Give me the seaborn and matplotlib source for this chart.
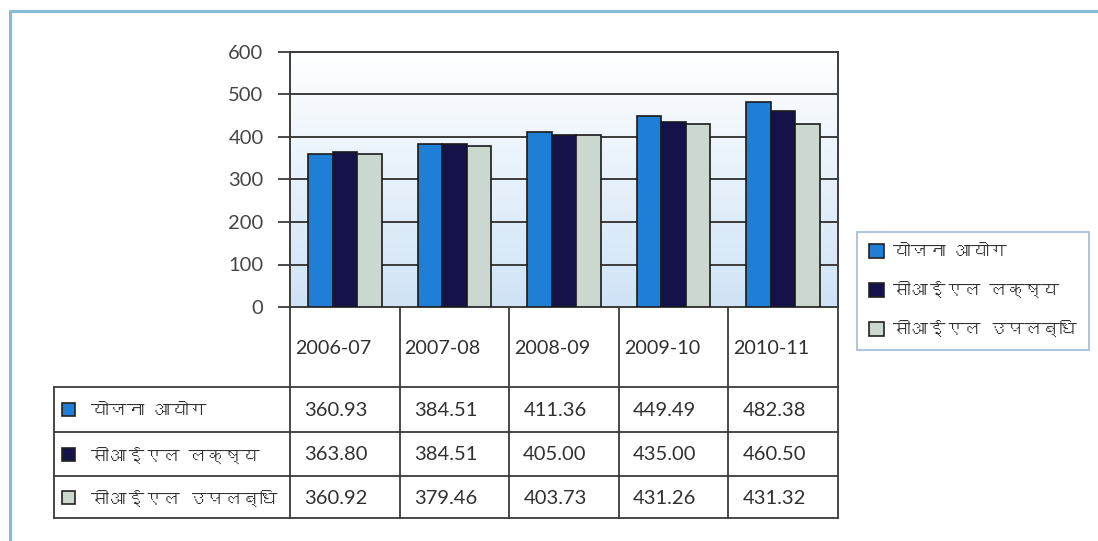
import numpy as np
import pandas as pd
import matplotlib
matplotlib.use("Agg")
import matplotlib.pyplot as plt
import matplotlib.font_manager as fm
from matplotlib.ft2font import FT2Font
from matplotlib.patches import Rectangle, Patch
from matplotlib.lines import Line2D
import seaborn as sns

# ---------------- data ----------------
categories = ["2006-07", "2007-08", "2008-09", "2009-10", "2010-11"]
series_names = ["योजना आयोग", "सीआईएल लक्ष्य", "सीआईएल उपलब्धि"]
planning_commission = [360.93, 384.51, 411.36, 449.49, 482.38]
cil_target = [363.80, 384.51, 405.00, 435.00, 460.50]
cil_achievement = [360.92, 379.46, 403.73, 431.26, 431.32]
y_ticks = [0, 100, 200, 300, 400, 500, 600]
colors = ["#1f7fd6", "#15124a", "#cbd8cf"]

series_values = [planning_commission, cil_target, cil_achievement]
df = pd.DataFrame({
    "year": categories * 3,
    "series": [s for s in series_names for _ in categories],
    "value": planning_commission + cil_target + cil_achievement,
})

sns.set_theme(style="white")

# find a font covering Devanagari
deva_font = None
for f in fm.fontManager.ttflist:
    try:
        cm = FT2Font(f.fname).get_charmap()
        if 0x092F in cm and 0x0932 in cm:
            deva_font = f.name
            break
    except Exception:
        pass
latin = "Lato"
fams = [latin, "DejaVu Sans"]
deva_fams = ([deva_font] if deva_font else []) + [latin, "DejaVu Sans"]
plt.rcParams["font.family"] = fams

W, H = 1098, 541
fig = plt.figure(figsize=(W / 100, H / 100), dpi=100)
fig.patch.set_facecolor("white")

def fx(px):
    return px / W

def fy(py):
    return 1 - py / H

ax_l, ax_r, ax_t, ax_b = 290, 838, 52, 307
ax = fig.add_axes([fx(ax_l), fy(ax_b), fx(ax_r - ax_l), (ax_b - ax_t) / H])

sns.barplot(data=df, x="year", y="value", hue="series", palette=colors,
            width=0.67, edgecolor="#1a1a1a", linewidth=1.2, ax=ax,
            legend=False, saturation=1, zorder=3)

ax.set_xlim(-0.5, len(categories) - 0.5)
ax.set_ylim(0, 600)

# gradient background
grad = np.linspace(0, 1, 256).reshape(-1, 1)
cmap = matplotlib.colors.LinearSegmentedColormap.from_list("bg", ["#cfe3f6", "#ffffff"])
ax.imshow(grad, aspect="auto", cmap=cmap, origin="lower",
          extent=[-0.5, len(categories) - 0.5, 0, 600], zorder=0)

grid_c = "#3c3c3c"
for yv in y_ticks[1:]:
    ax.axhline(yv, color=grid_c, lw=1.4, zorder=1)

ax.set_yticks(y_ticks)
ax.set_yticklabels([str(v) for v in y_ticks], fontsize=14.5, color="#454545")
ax.tick_params(axis="y", length=9, width=1.3, color=grid_c, pad=10, left=True)
ax.set_xticks([])
ax.set_xlabel("")
ax.set_ylabel("")
for s in ["left", "right", "top", "bottom"]:
    ax.spines[s].set_visible(True)
    ax.spines[s].set_color(grid_c)
    ax.spines[s].set_linewidth(1.4)

# ---------------- data table ----------------
row_lines = [307, 387, 432, 476, 518]
tbl_left = 54
col_edges = [ax_l + (ax_r - ax_l) * i / len(categories) for i in range(len(categories) + 1)]
line_c = "#3a3a3a"

def fline(x0, y0, x1, y1, lw=1.3):
    fig.add_artist(Line2D([fx(x0), fx(x1)], [fy(y0), fy(y1)], color=line_c, lw=lw,
                          transform=fig.transFigure))

for xe in col_edges:
    fline(xe, row_lines[0], xe, row_lines[-1])
fline(tbl_left, row_lines[1], tbl_left, row_lines[-1])
for yl in row_lines[1:]:
    fline(tbl_left, yl, ax_r, yl)

# header
for i, c in enumerate(categories):
    fig.text(fx(col_edges[i] + 5), fy((row_lines[0] + row_lines[1]) / 2 + 1), c,
             ha="left", va="center", fontsize=14.2, color="#303030")

# rows
for r, (name, vals) in enumerate(zip(series_names, series_values)):
    y0, y1 = row_lines[r + 1], row_lines[r + 2]
    yc = (y0 + y1) / 2
    sw = 13
    fig.add_artist(Rectangle((fx(62), fy(yc + sw / 2)), fx(sw), sw / H,
                             facecolor=colors[r], edgecolor="#222222", lw=1.2,
                             transform=fig.transFigure))
    fig.text(fx(91), fy(yc + 1), name, ha="left", va="center", fontsize=12.8,
             color="#303030", family=deva_fams)
    for i, v in enumerate(vals):
        xc = (col_edges[i] + col_edges[i + 1]) / 2 - 9
        fig.text(fx(xc), fy(yc + 1), f"{v:.2f}", ha="center", va="center",
                 fontsize=14.5, color="#303030")

# ---------------- legend ----------------
handles = [Patch(facecolor=colors[i], edgecolor="#222222", lw=1.2) for i in range(3)]
leg = fig.legend(handles, series_names, loc="upper left",
                 bbox_to_anchor=(fx(857), fy(232)), bbox_transform=fig.transFigure,
                 frameon=True, fancybox=False, edgecolor="#8fb0d8",
                 handlelength=0.85, handleheight=0.85, handletextpad=0.5,
                 labelspacing=1.25, borderpad=0.7, borderaxespad=0,
                 prop=fm.FontProperties(family=deva_fams, size=12.6))
leg.get_frame().set_linewidth(1.3)
for t in leg.get_texts():
    t.set_color("#303030")

# ---------------- outer frame ----------------
frame_c = "#86bcd8"
fig.add_artist(Line2D([fx(10), fx(10)], [fy(11), 0], color=frame_c, lw=2.2, transform=fig.transFigure))
fig.add_artist(Line2D([fx(10), 1], [fy(11), fy(11)], color=frame_c, lw=2.2, transform=fig.transFigure))

fig.savefig("out.png", dpi=100, facecolor="white")
